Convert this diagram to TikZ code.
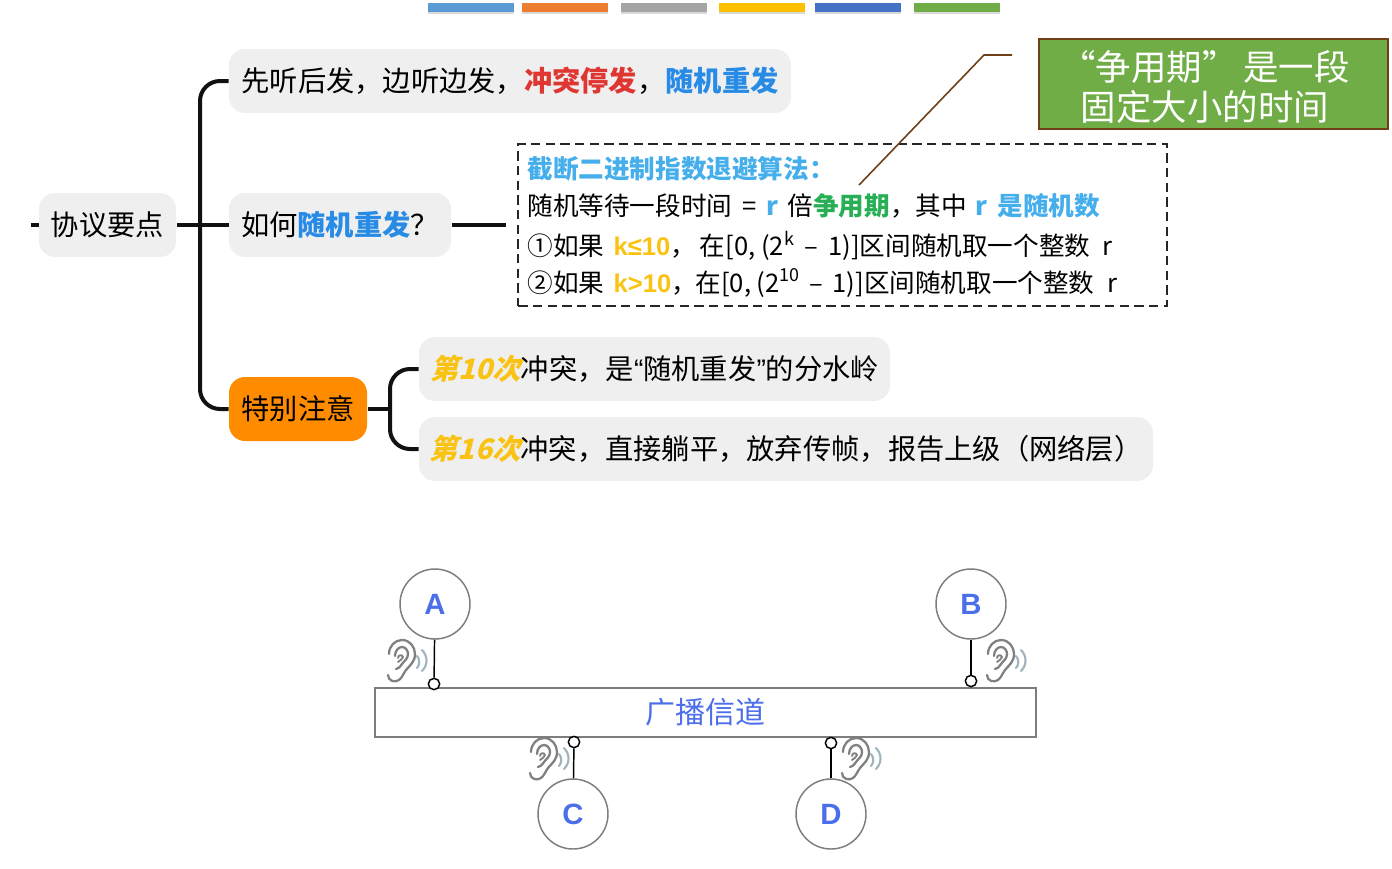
\documentclass[tikz,border=0pt]{standalone}
\usepackage{fontspec}
\setmainfont{Noto Sans CJK SC}
\newfontfamily\cjkslant[FakeSlant=0.25]{Noto Sans CJK SC}
\newfontfamily\latinbold{Liberation Sans}
\newfontfamily\latinplain{Liberation Sans}
\usetikzlibrary{shadows}

\definecolor{nodegray}{RGB}{239,239,239}
\definecolor{linkblack}{RGB}{17,17,17}
\definecolor{hotred}{RGB}{224,54,50}
\definecolor{keyblue}{RGB}{40,140,230}
\definecolor{skyblue}{RGB}{70,175,235}
\definecolor{keygreen}{RGB}{40,175,85}
\definecolor{keyyellow}{RGB}{250,195,20}
\definecolor{noteorange}{RGB}{255,140,0}
\definecolor{boxgreen}{RGB}{112,173,71}
\definecolor{boxbrown}{RGB}{110,65,25}
\definecolor{stationblue}{RGB}{75,110,235}
\definecolor{edgegray}{RGB}{125,125,125}
\definecolor{eargray}{RGB}{128,128,128}
\definecolor{wavegray}{RGB}{160,180,190}

\tikzset{every picture/.style={line width=0.75pt}}
\tikzset{
  topic/.style={fill=nodegray,rounded corners=12pt,inner sep=0pt,minimum height=48pt,font=\fontsize{21.2}{24}\selectfont},
  link/.style={draw=linkblack,line width=3pt,rounded corners=15pt},
  algoline/.style={anchor=west,inner sep=0pt,font=\fontsize{19.2}{22}\selectfont},
  station/.style={circle,draw=edgegray,line width=1.1pt,fill=white,minimum size=52.5pt,inner sep=0pt,text=stationblue,font=\fontsize{22}{24}\selectfont\latinbold\bfseries},
  tap/.style={circle,draw=black,line width=1.1pt,fill=white,minimum size=8.5pt,inner sep=0pt},
  stub/.style={draw=black,line width=1.1pt},
  tabbar/.style={minimum width=64.5pt,minimum height=6.5pt,inner sep=0pt,drop shadow={shadow xshift=0pt,shadow yshift=-1.5pt,opacity=0.3}},
  earline/.style={draw=eargray,line width=1.7pt,line cap=round},
  earwave/.style={draw=wavegray,line width=1.6pt,line cap=round}
}
\newcommand{\eardraw}[2]{%
  \begin{scope}[shift={(#1,#2)}]
    \draw [earline] (-11,-7) .. controls (-11,-15) and (-5,-21) .. (2,-21);
    \draw [earline] (2,-21) .. controls (10,-21) and (15,-14) .. (15,-7);
    \draw [earline] (15,-7) .. controls (15,1) and (10,4) .. (6,9);
    \draw [earline] (6,9) .. controls (3,13) and (2,17) .. (-1,19);
    \draw [earline] (-1,19) .. controls (-5,22) and (-12,20) .. (-12,14);
    \draw [earline] (-5,-5) .. controls (-5,-11) and (-1,-14) .. (2,-14);
    \draw [earline] (2,-14) .. controls (6,-14) and (8,-10) .. (8,-7);
    \draw [earline] (8,-7) .. controls (8,-2) and (4,0) .. (2,3);
    \draw [earline] (2,3) .. controls (0,6) and (-2,8) .. (-4,8);
    \draw [earline,line width=1.4pt] (-2,-3) .. controls (-2,-6) and (2,-7) .. (3,-4);
    \draw [earline,line width=1.4pt] (3,-4) .. controls (3,-2) and (0,-1) .. (-2,1);
    \draw [earwave] (17,-5) .. controls (20,-2) and (20,4) .. (17,7);
    \draw [earwave] (22,-11) .. controls (28,-5) and (28,4) .. (22,10);
  \end{scope}
}

\begin{document}
\begin{tikzpicture}[x=0.75pt,y=0.75pt,yscale=-1,xscale=1]
\useasboundingbox (0,0) rectangle (1392,868);

% Top bars
\draw (471,7.5) node [tabbar,fill={rgb,255:red,91;green,155;blue,213}] (bara) {};
\draw (565,7.5) node [tabbar,fill={rgb,255:red,237;green,125;blue,49}] (barb) {};
\draw (664,7.5) node [tabbar,fill={rgb,255:red,165;green,165;blue,165}] (barc) {};
\draw (762,7.5) node [tabbar,fill={rgb,255:red,255;green,192;blue,0}] (bard) {};
\draw (858,7.5) node [tabbar,fill={rgb,255:red,68;green,114;blue,196}] (bare) {};
\draw (957,7.5) node [tabbar,fill={rgb,255:red,112;green,173;blue,71}] (barf) {};

% Topic nodes
\draw (107.5,225) node [topic,minimum width=102.75pt] (root) {协议要点};
\draw (510,81) node [topic,minimum width=421.5pt] (listen) {先听后发，边听边发，\textcolor{hotred}{\bfseries 冲突停发}，\textcolor{keyblue}{\bfseries 随机重发}};
\draw (340,225) node [topic,minimum width=166.5pt] (how) {如何\textcolor{keyblue}{\bfseries 随机重发}？};
\draw (298,409) node [topic,fill=noteorange,minimum width=103.5pt] (note) {特别注意};
\draw (654.5,369) node [topic,minimum width=353.25pt] (tenth) {\textcolor{keyyellow}{\cjkslant\bfseries 第10次}冲突，是{\latinplain “}随机重发{\latinplain ”}的分水岭};
\draw (786,449) node [topic,minimum width=550.5pt] (sixteenth) {\textcolor{keyyellow}{\cjkslant\bfseries 第16次}冲突，直接躺平，放弃传帧，报告上级（网络层）};

% Mind map links
\coordinate (rootstub) at (31,225);
\coordinate (rootfork) at (200,225);
\coordinate (notefork) at (390,409);
\coordinate (algoin) at (506,225);
\draw [link] (rootstub) -- (root.west);
\draw [link] (root.east) -- (how.west);
\draw [link] (rootfork) |- (listen.west);
\draw [link] (rootfork) |- (note.west);
\draw [link] (how.east) -- (algoin);
\draw [link] (note.east) -- (notefork);
\draw [link] (notefork) |- (tenth.west);
\draw [link] (notefork) |- (sixteenth.west);

% Algorithm box
\draw (842.5,225) node [draw=black!85,line width=1.1pt,dash pattern={on 7pt off 4pt},minimum width=486.5pt,minimum height=121.5pt,inner sep=0pt] (algobox) {};
\draw (527,169) node [algoline,text=skyblue] (algotitle) {\bfseries 截断二进制指数退避算法：};
\draw (527,206) node [algoline] (algotime) {随机等待一段时间\hspace{7.5pt}=\hspace{7.5pt}\textcolor{skyblue}{\bfseries r}\hspace{7pt}倍\textcolor{keygreen}{\bfseries 争用期}，其中\hspace{6.5pt}\textcolor{skyblue}{\bfseries r}\hspace{7.5pt}\textcolor{skyblue}{\bfseries 是随机数}};
\draw (527,246) node [algoline] (algoone) {①如果\hspace{7pt}\textcolor{keyyellow}{\latinbold\bfseries k≤10}，\hspace{3pt}在[0, (2\textsuperscript{k}\hspace{7.5pt}–\hspace{7.5pt}1)]区间随机取一个整数\hspace{9pt}r};
\draw (527,283) node [algoline] (algotwo) {②如果\hspace{7pt}\textcolor{keyyellow}{\latinbold\bfseries k>10}，\hspace{-1pt}在[0, (2\textsuperscript{10}\hspace{7pt}–\hspace{7pt}1)]区间随机取一个整数\hspace{10pt}r};

% Callout
\draw (1213.5,84) node [fill=boxgreen,draw=boxbrown,line width=1.5pt,minimum width=262pt,minimum height=68pt,inner sep=0pt] (callout) {};
\draw (1205,87) node [inner sep=0pt,text=white,align=center,font=\fontsize{26.6}{30}\selectfont] (calloutlabel) {“争用期”\hspace{4pt}是一段\\固定大小的时间};
\coordinate (calloutend) at (1012,55);
\coordinate (calloutbend) at (984,55);
\coordinate (calloutfoot) at (859,185);
\draw [boxbrown,line width=1.2pt] (calloutend) -- (calloutbend) -- (calloutfoot);

% Channel
\draw (705.5,712.5) node [draw=edgegray,line width=1.1pt,minimum width=495.5pt,minimum height=36.5pt,inner sep=0pt,text=stationblue,font=\fontsize{22.5}{26}\selectfont] (channel) {\raisebox{-1.5pt}{广播信道}};

% Stations
\draw (435,604) node [station] (staa) {A};
\draw (971,604) node [station] (stab) {B};
\draw (573,814) node [station] (stac) {C};
\draw (831,814) node [station] (stad) {D};
\draw (434,684) node [tap] (tapa) {};
\draw (971,681) node [tap] (tapb) {};
\draw (574,742) node [tap] (tapc) {};
\draw (831,743) node [tap] (tapd) {};
\draw [stub] (staa) -- (tapa);
\draw [stub] (stab) -- (tapb);
\draw [stub] (stac) -- (tapc);
\draw [stub] (stad) -- (tapd);

% Ears
\eardraw{400}{661}
\eardraw{999}{661}
\eardraw{542}{759}
\eardraw{854}{759}
\end{tikzpicture}
\end{document}
